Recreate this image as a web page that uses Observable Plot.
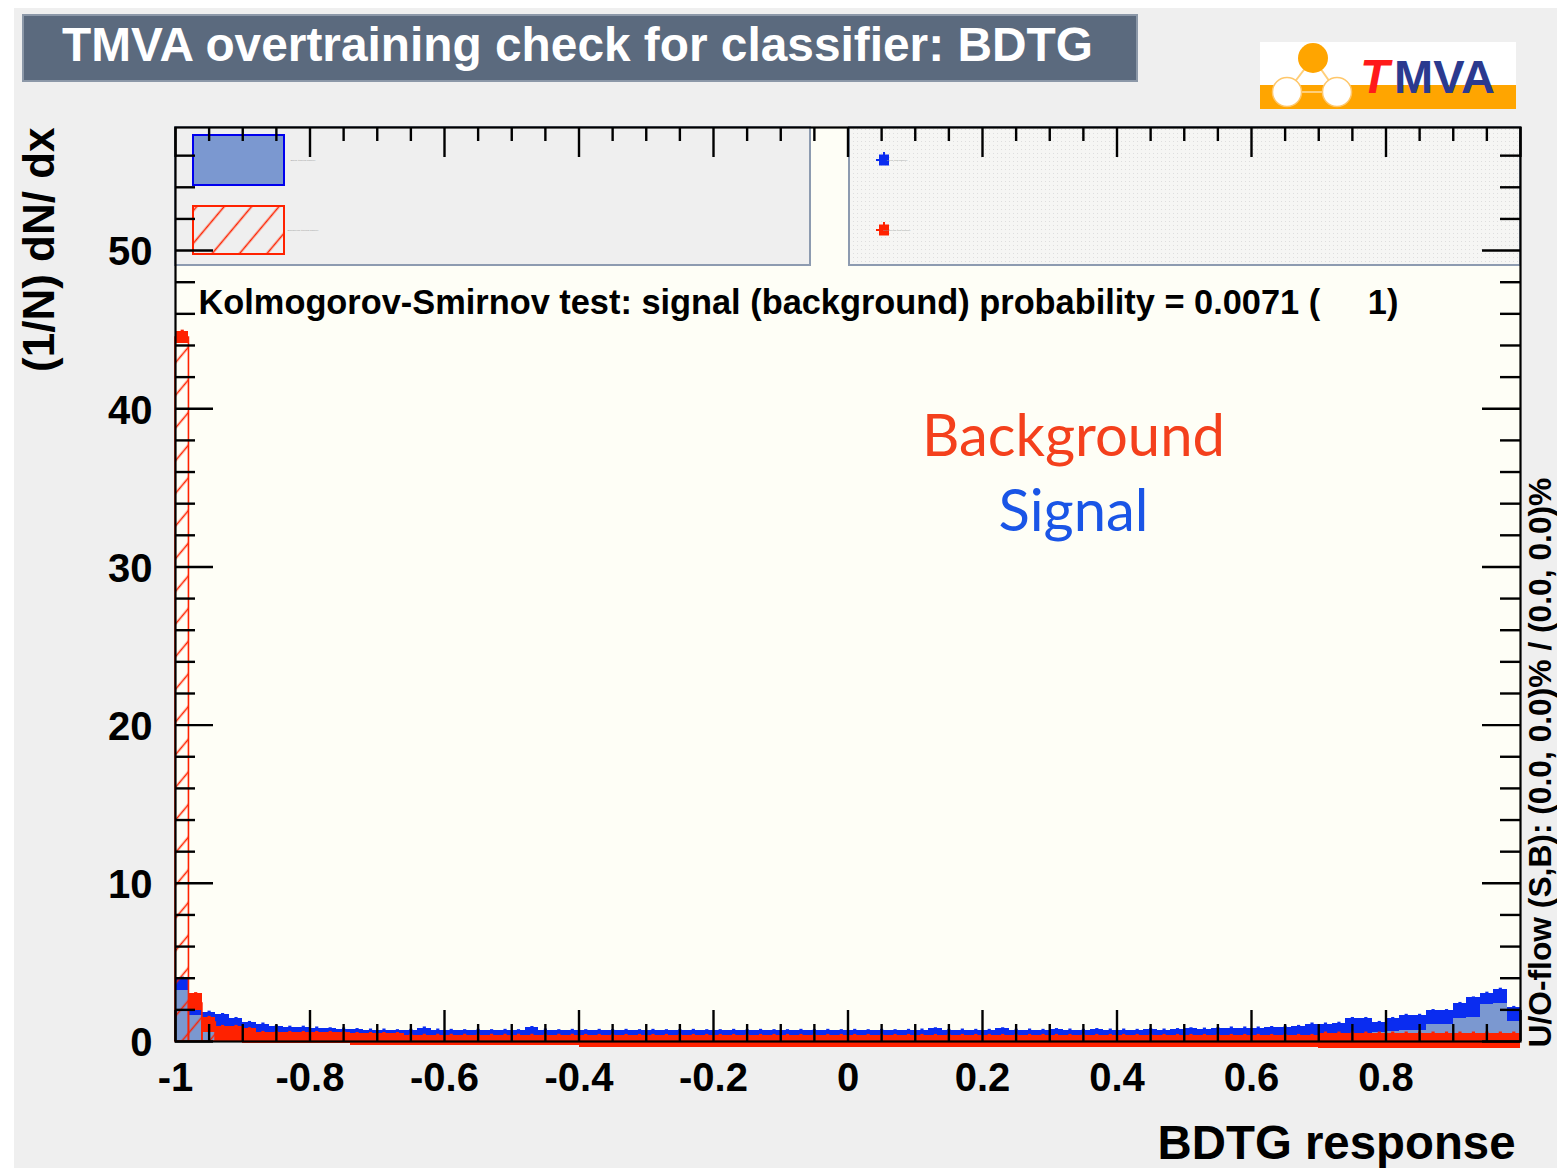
<!DOCTYPE html>
<html><head><meta charset="utf-8">
<script src="https://cdn.jsdelivr.net/npm/d3@7"></script>
<script src="https://cdn.jsdelivr.net/npm/@observablehq/plot@0.6"></script>
<style>
html,body{margin:0;padding:0;background:#ffffff;overflow:hidden}
#page{position:relative;width:1557px;height:1168px;background:#ffffff;overflow:hidden}
#bg{position:absolute;left:14px;top:8px;width:1543px;height:1160px;background:#efefef}
#chart{position:absolute;left:0;top:0}
#titlebox{position:absolute;left:22px;top:14px}
#logo{position:absolute;left:1260px;top:42px}
</style></head>
<body>
<div id="page">
  <div id="bg"></div>
  <div id="chart"></div>
  <svg id="titlebox" width="1116" height="68"></svg>
  <svg id="logo" width="256" height="67"></svg>
</div>
<script>
// ---------------- data ----------------
const xStart = -1, binWidth = 0.02, nBins = 100;

// signal, training sample (filled histogram)
const sigTrain = [
  3.2,1.65,1.2,0.9,0.85,0.75,0.55,0.5,0.5,0.48,
  0.46,0.45,0.44,0.42,0.4,0.4,0.38,0.37,0.36,0.36,
  0.35,0.34,0.35,0.33,0.34,0.33,0.35,0.33,0.32,0.33,
  0.32,0.33,0.31,0.32,0.33,0.32,0.31,0.32,0.33,0.31,
  0.32,0.31,0.32,0.32,0.31,0.33,0.32,0.31,0.32,0.32,
  0.33,0.32,0.31,0.32,0.33,0.32,0.33,0.32,0.33,0.34,
  0.33,0.34,0.33,0.34,0.35,0.34,0.35,0.34,0.35,0.36,
  0.35,0.36,0.36,0.35,0.36,0.37,0.36,0.37,0.37,0.36,
  0.37,0.38,0.37,0.38,0.37,0.4,0.45,0.5,0.5,0.55,
  0.62,0.7,0.72,1.05,1.1,1.45,1.5,2.35,2.4,1.25];

// signal, test sample
const sigTest = [
  4.0,2.1,1.85,1.7,1.45,1.2,1.1,0.95,0.9,0.9,
  0.85,0.8,0.78,0.75,0.72,0.72,0.68,0.7,0.85,0.72,
  0.7,0.68,0.7,0.68,0.7,0.68,0.88,0.72,0.68,0.7,
  0.68,0.7,0.68,0.7,0.68,0.7,0.68,0.68,0.7,0.68,
  0.68,0.7,0.68,0.7,0.68,0.68,0.7,0.68,0.7,0.68,
  0.7,0.68,0.7,0.68,0.7,0.72,0.8,0.7,0.72,0.7,
  0.7,0.8,0.7,0.72,0.7,0.75,0.72,0.7,0.75,0.72,
  0.72,0.7,0.75,0.72,0.75,0.8,0.78,0.8,0.85,0.85,
  0.85,0.88,0.9,0.95,1.1,1.1,1.15,1.45,1.45,1.2,
  1.45,1.65,1.65,1.95,1.95,2.4,2.75,3.05,3.3,2.15];

// background, training sample (hatched histogram)
const bgTrain = [
  44.5,2.4,1.2,0.7,0.5,0.35,0.25,0.2,0.15,0.12,
  0.1,0.1,0.09,0.09,0.08,0.08,0.07,0.07,0.07,0.06,
  0.06,0.06,0.05,0.05,0.05,0.05,0.04,0.04,0.04,0.04,
  0.04,0.03,0.03,0.03,0.03,0.03,0.03,0.03,0.03,0.03,
  0.03,0.03,0.02,0.02,0.02,0.02,0.02,0.02,0.02,0.02,
  0.02,0.02,0.02,0.02,0.02,0.02,0.02,0.02,0.02,0.02,
  0.02,0.02,0.02,0.02,0.02,0.02,0.02,0.02,0.02,0.02,
  0.02,0.02,0.02,0.02,0.02,0.02,0.02,0.02,0.02,0.02,
  0.02,0.02,0.02,0.03,0.03,0.03,0.03,0.03,0.03,0.03,
  0.03,0.03,0.03,0.03,0.04,0.04,0.04,0.04,0.04,0.04];

// background, test sample (markers with errors)
const bgTest = [
  44.5,2.5,1.05,0.45,0.45,0.35,0.22,0.22,0.22,0.22,
  0.22,0.22,0.22,0.12,0.12,0.12,0.12,0.07,0.07,0.07,
  0.07,0.07,0.07,0.07,0.07,0.07,0.07,0.07,0.07,0.07,
  0.0,0.0,0.0,0.0,0.0,0.0,0.0,0.0,0.0,0.0,
  0.0,0.0,0.0,0.0,0.0,0.0,0.0,0.0,0.0,0.0,
  0.0,0.0,0.0,0.0,0.0,0.0,0.0,0.0,0.0,0.0,
  0.0,0.0,0.0,0.0,0.0,0.0,0.0,0.0,0.0,0.0,
  0.0,0.0,0.0,0.0,0.0,0.0,0.0,0.0,0.0,0.0,
  0.0,0.0,0.0,0.0,0.0,0.05,0.05,0.05,0.05,0.05,
  0.05,0.05,0.05,0.05,0.05,0.05,0.05,0.05,0.05,0.05];
const bgErr = [
  0.4,0.52,0.47,0.5,0.5,0.45,0.35,0.35,0.35,0.35,
  0.35,0.35,0.35,0.38,0.38,0.38,0.38,0.32,0.32,0.32,
  0.32,0.32,0.32,0.32,0.32,0.32,0.32,0.32,0.32,0.32,
  0.38,0.38,0.38,0.38,0.38,0.38,0.38,0.38,0.38,0.38,
  0.38,0.38,0.38,0.38,0.38,0.38,0.38,0.38,0.38,0.38,
  0.38,0.38,0.38,0.38,0.38,0.38,0.38,0.38,0.38,0.38,
  0.38,0.38,0.38,0.38,0.38,0.38,0.38,0.38,0.38,0.38,
  0.38,0.38,0.38,0.38,0.38,0.38,0.38,0.38,0.38,0.38,
  0.38,0.38,0.38,0.38,0.38,0.48,0.48,0.48,0.48,0.48,
  0.48,0.48,0.48,0.48,0.48,0.48,0.48,0.48,0.48,0.48];

const xTicks = [-1,-0.8,-0.6,-0.4,-0.2,0,0.2,0.4,0.6,0.8];
const xTickLabels = ["-1","-0.8","-0.6","-0.4","-0.2","0","0.2","0.4","0.6","0.8"];
const yTicks = [0,10,20,30,40,50];
const yTickLabels = ["0","10","20","30","40","50"];
const xMinorStep = 0.05, yMinorStep = 2;

const titleText = "TMVA overtraining check for classifier: BDTG";
const ksText = "Kolmogorov-Smirnov test: signal (background) probability = 0.0071 (\u00a0\u00a0\u00a0\u00a0 1)";
const yTitle = "(1/N) dN/ dx";
const xTitle = "BDTG response";
const uoText = "U/O-flow (S,B): (0.0, 0.0)% / (0.0, 0.0)%";
const legendLabels = ["Signal (training sample)", "Background (training sample)", "Signal (test sample)", "Background (test sample)"];
const annotBg = "Background", annotSig = "Signal";

// ---------------- layout / style ----------------
const W = 1557, H = 1168;
const M = {left: 175, right: 37, top: 127, bottom: 127};
const FW = W - M.left - M.right, FH = H - M.top - M.bottom;
const RED = "#ff2200", BLUE = "#0a2cf0", LIGHTBLUE = "#7b98d0", LINEBLUE = "#0000ee";
const FONT = "'Liberation Sans', Arial, sans-serif";
const HFONT = "Lato, 'Open Sans', sans-serif";

function fit(text, weight, family, target, style = "normal") {
  const ctx = document.createElement("canvas").getContext("2d");
  ctx.font = `${style} ${weight} 100px ${family}`;
  return 100 * target / ctx.measureText(text).width;
}

const rows = sigTrain.map((v, i) => {
  const lo = xStart + i * binWidth, hi = lo + binWidth;
  return {lo, hi, c: (lo + hi) / 2, sigTrain: v, sigTest: sigTest[i], bgTrain: bgTrain[i], bgTest: bgTest[i], bgErr: bgErr[i]};
});

const near = (a, arr) => arr.some(b => Math.abs(a - b) < 1e-6);
const xMajorAll = xTicks.concat([1]);
const xMinor = d3.range(-1, 1 + 1e-9, xMinorStep).filter(v => !near(v, xMajorAll));
const yMinor = d3.range(0, 57, yMinorStep).filter(v => !near(v, yTicks));

const ksSize = fit(ksText, "bold", FONT, 1200);
const ySize = 44;
const xtSize = fit(xTitle, "bold", FONT, 358);
const uoSize = fit(uoText, "bold", FONT, 570);
const bgSize = fit(annotBg, "normal", HFONT, 303);

function legendMark() {
  const g = d3.create("svg:g");
  const defs = g.append("defs");
  const hatch = defs.append("pattern").attr("id", "hatch").attr("patternUnits", "userSpaceOnUse")
    .attr("width", 21).attr("height", 21).attr("patternTransform", "rotate(40)");
  hatch.append("line").attr("x1", 10.5).attr("y1", -1).attr("x2", 10.5).attr("y2", 22)
    .attr("stroke", RED).attr("stroke-width", 1.6);
  const dots = defs.append("pattern").attr("id", "dots").attr("patternUnits", "userSpaceOnUse")
    .attr("width", 4).attr("height", 4);
  dots.append("rect").attr("width", 4).attr("height", 4).attr("fill", "#f6f6f4");
  dots.append("rect").attr("x", 1).attr("y", 1).attr("width", 1).attr("height", 1).attr("fill", "#dedede");

  const boxStroke = "#8d9bb0";
  g.append("rect").attr("x", 175).attr("y", 127).attr("width", 635).attr("height", 138)
    .attr("fill", "#efefef").attr("stroke", boxStroke).attr("stroke-width", 2);
  g.append("rect").attr("x", 849).attr("y", 127).attr("width", 671).attr("height", 138)
    .attr("fill", "url(#dots)").attr("stroke", boxStroke).attr("stroke-width", 2);

  g.append("rect").attr("x", 193).attr("y", 135).attr("width", 91).attr("height", 50)
    .attr("fill", LIGHTBLUE).attr("stroke", LINEBLUE).attr("stroke-width", 2);
  g.append("rect").attr("x", 193).attr("y", 206).attr("width", 91).attr("height", 48)
    .attr("fill", "url(#hatch)").attr("stroke", RED).attr("stroke-width", 2);

  const marker = (cx, cy, col) => {
    g.append("rect").attr("x", cx - 5).attr("y", cy - 5.5).attr("width", 10).attr("height", 11).attr("fill", col);
    g.append("line").attr("x1", cx).attr("x2", cx).attr("y1", cy - 8).attr("y2", cy - 5).attr("stroke", col).attr("stroke-width", 2);
    g.append("line").attr("x1", cx - 8).attr("x2", cx - 5).attr("y1", cy).attr("y2", cy).attr("stroke", col).attr("stroke-width", 2);
  };
  marker(884, 160, BLUE);
  marker(884, 230, RED);

  const tiny = (x, y, t) => g.append("text").attr("x", x).attr("y", y).attr("font-size", 2.4)
    .attr("font-family", FONT).attr("fill", "#999").text(t);
  tiny(303, 161, legendLabels[0]);
  tiny(303, 231, legendLabels[1]);
  tiny(897, 161, legendLabels[2]);
  tiny(897, 231, legendLabels[3]);
  return g.node();
}

const tickStyle = {stroke: "black", strokeWidth: 2.4};
const txt = {fontFamily: FONT, fontWeight: "bold", fill: "black", lineAnchor: "middle"};

const chart = Plot.plot({
  width: W, height: H,
  marginLeft: M.left, marginRight: M.right, marginTop: M.top, marginBottom: M.bottom,
  x: {domain: [-1, 1], axis: null},
  y: {domain: [0, 57.78], axis: null},
  style: {background: "transparent", overflow: "visible"},
  marks: [
    Plot.frame({fill: "#fefef6", stroke: "none"}),
    // signal test (markers band)
    Plot.rectY(rows, {x1: "lo", x2: "hi", y: "sigTest", fill: BLUE, shapeRendering: "crispEdges"}),
    Plot.dot(rows, {x: "c", y: "sigTest", symbol: "square", r: 1.8, fill: BLUE}),
    // signal training
    Plot.rectY(rows, {x1: "lo", x2: "hi", y: "sigTrain", fill: LIGHTBLUE, shapeRendering: "crispEdges"}),
    // background training (hatched)
    Plot.rectY(rows, {x1: "lo", x2: "hi", y: "bgTrain", fill: "url(#hatch)", stroke: RED, strokeWidth: 1.6}),
    // background test markers with errors
    Plot.rect(rows, {x1: "lo", x2: "hi", y1: d => d.bgTest - d.bgErr, y2: d => d.bgTest + d.bgErr, fill: RED, shapeRendering: "crispEdges"}),
    Plot.dot(rows, {x: "c", y: d => d.bgTest + d.bgErr, symbol: "square", r: 1.8, fill: RED}),
    legendMark,
    // ticks (inside frame, all four sides)
    Plot.ruleX(xMajorAll, {x: d => d, insetTop: FH - 31, ...tickStyle}),
    Plot.ruleX(xMinor, {x: d => d, insetTop: FH - 17, ...tickStyle}),
    Plot.ruleX(xMajorAll, {x: d => d, insetBottom: FH - 30, ...tickStyle}),
    Plot.ruleX(xMinor, {x: d => d, insetBottom: FH - 14, ...tickStyle}),
    Plot.ruleY(yTicks, {y: d => d, insetRight: FW - 38, ...tickStyle}),
    Plot.ruleY(yMinor, {y: d => d, insetRight: FW - 20, ...tickStyle}),
    Plot.ruleY(yTicks, {y: d => d, insetLeft: FW - 38, ...tickStyle}),
    Plot.ruleY(yMinor, {y: d => d, insetLeft: FW - 20, ...tickStyle}),
    Plot.frame({stroke: "black", strokeWidth: 2.2}),
    // tick labels
    Plot.text(xTicks, {x: d => d, text: (d, i) => xTickLabels[i], frameAnchor: "bottom", dy: 37, fontSize: 40, ...txt}),
    Plot.text(yTicks, {y: d => d, text: (d, i) => yTickLabels[i], frameAnchor: "left", textAnchor: "end", dx: -23, dy: 2, fontSize: 40, ...txt}),
    // axis titles
    Plot.text([yTitle], {frameAnchor: "top-left", rotate: -90, textAnchor: "end", dx: -136, dy: 0, fontSize: ySize, ...txt}),
    Plot.text([xTitle], {frameAnchor: "bottom-right", textAnchor: "end", dx: -5, dy: 102, fontSize: xtSize, ...txt}),
    Plot.text([uoText], {frameAnchor: "bottom-right", rotate: -90, textAnchor: "start", dx: 20, dy: 6, fontSize: uoSize, ...txt}),
    // KS test
    Plot.text([ksText], {frameAnchor: "top-left", textAnchor: "start", dx: 23, dy: 175, fontSize: ksSize, ...txt}),
    // annotations
    Plot.text([annotBg], {frameAnchor: "top-left", textAnchor: "middle", lineAnchor: "middle", dx: 898, dy: 310, fontSize: bgSize, fontFamily: HFONT, fill: "#f4401c"}),
    Plot.text([annotSig], {frameAnchor: "top-left", textAnchor: "middle", lineAnchor: "middle", dx: 898, dy: 385, fontSize: bgSize, fontFamily: HFONT, fill: "#1a55e6"})
  ]
});
document.getElementById("chart").appendChild(chart);

// title box
const tb = d3.select("#titlebox");
tb.append("rect").attr("x", 1).attr("y", 1).attr("width", 1114).attr("height", 66)
  .attr("fill", "#5b6a7e").attr("stroke", "#8c98a8").attr("stroke-width", 2);
tb.append("text").attr("x", 40).attr("y", 47).attr("fill", "white")
  .attr("font-family", FONT).attr("font-weight", "bold")
  .attr("font-size", fit(titleText, "bold", FONT, 1033)).text(titleText);

// logo
const lg = d3.select("#logo");
lg.append("rect").attr("width", 256).attr("height", 67).attr("fill", "#ffffff");
lg.append("rect").attr("y", 43).attr("width", 256).attr("height", 24).attr("fill", "#ffa500");
lg.append("path").attr("d", "M53,16 L27,50 M53,16 L77,50 M27,50 L77,50").attr("stroke", "#ffcf7a").attr("stroke-width", 2).attr("fill", "none");
lg.append("circle").attr("cx", 53).attr("cy", 16).attr("r", 15).attr("fill", "#ffa500");
lg.append("circle").attr("cx", 27).attr("cy", 50).attr("r", 14.5).attr("fill", "#ffffff").attr("stroke", "#ffc76a").attr("stroke-width", 1.5);
lg.append("circle").attr("cx", 77).attr("cy", 50).attr("r", 14.5).attr("fill", "#ffffff").attr("stroke", "#ffc76a").attr("stroke-width", 1.5);
lg.append("text").attr("x", 100).attr("y", 51).attr("font-family", FONT).attr("font-weight", "bold")
  .attr("font-style", "italic").attr("font-size", 48).attr("fill", "#ff1a1a").text("T");
lg.append("text").attr("x", 134).attr("y", 51).attr("font-family", FONT).attr("font-weight", "bold")
  .attr("font-size", 47).attr("fill", "#2b3a8f").text("MVA");
</script>
</body></html>
